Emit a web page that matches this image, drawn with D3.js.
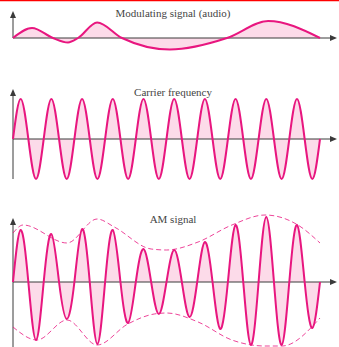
<!DOCTYPE html>
<html>
<head>
<meta charset="utf-8">
<script src="https://cdn.jsdelivr.net/npm/d3@7"></script>
<style>
  body { margin: 0; background: #fff; }
  text { font-family: "Liberation Serif", "DejaVu Serif", serif; fill: #444; }
</style>
</head>
<body>
<div id="chart"></div>
<script>
// time runs 0..100 across each panel, values are signal amplitudes
var modulating = [[0,0],[6.2,10],[13,0],[17.9,-4.5],[21.2,0],[27.4,15.5],[35.5,0],[51.1,-11.5],[69.7,0],[83.1,17],[100,0]];

// carrier extremes, one per half cycle (10 full cycles)
var carrierPeaks = [40,-40,40,-40,40,-40,40,-40,40,-40,40,-40,40,-40,40,-40,40,-40,40,-40];

// AM signal extremes, one per half cycle
var amPeaks = [52,-58,48,-37,53,-62,52,-41,33,-32,32,-35,40,-47,57,-63,65,-63,57,-46];

// dashed envelopes of the AM signal
var upperEnv = [[0,49],[3.3,57],[17.6,39],[27.4,63],[33,55],[45,33],[50,32],[60.3,40],[71.3,57],[82.1,67],[92.8,57],[100,39]];
var lowerEnv = [[0,45],[7.8,58],[17.6,38],[27.4,63],[37.4,42],[46,32],[50,31],[60.3,40],[71.3,58],[82,64],[87.6,64],[100,36]];

var titles = ["Modulating signal (audio)", "Carrier frequency", "AM signal"];

var width = 339, height = 347;
var pink = "#e8167f", fillPink = "#fcdbe9", axisCol = "#3a3a3a";

var svg = d3.select("#chart").append("svg")
  .attr("width", width).attr("height", height);

svg.append("line")
  .attr("x1", 0).attr("x2", width).attr("y1", 0.5).attr("y2", 0.5)
  .attr("stroke", "#ff0000").attr("stroke-width", 1.5);

var x = d3.scaleLinear().domain([0, 100]).range([13, 320]);

function peaksToPoints(peaks) {
  var n = peaks.length, step = 100 / n, pts = [[0, 0]];
  peaks.forEach(function(p, i) {
    pts.push([step * (i + 0.5), p]);
    pts.push([step * (i + 1), 0]);
  });
  return pts;
}

function panel(base, yTop, yBottom, data, curve, title, titleY) {
  var y = d3.scaleLinear().domain([-100, 100]).range([base + 100, base - 100]);
  var g = svg.append("g");

  var area = d3.area().x(function(d){ return x(d[0]); })
    .y0(y(0)).y1(function(d){ return y(d[1]); }).curve(curve);
  var line = d3.line().x(function(d){ return x(d[0]); })
    .y(function(d){ return y(d[1]); }).curve(curve);

  g.append("path").attr("d", area(data)).attr("fill", fillPink);

  // axes
  g.append("line").attr("x1", x(0)).attr("x2", 332).attr("y1", y(0)).attr("y2", y(0))
    .attr("stroke", axisCol).attr("stroke-width", 1);
  g.append("path").attr("d", "M337," + y(0) + "l-7,-3l0,6z").attr("fill", axisCol);
  g.append("line").attr("x1", x(0)).attr("x2", x(0)).attr("y1", yBottom).attr("y2", yTop + 5)
    .attr("stroke", axisCol).attr("stroke-width", 1);
  g.append("path").attr("d", "M" + x(0) + "," + yTop + "l-3,7l6,0z").attr("fill", axisCol);

  g.append("path").attr("d", line(data)).attr("fill", "none")
    .attr("stroke", pink).attr("stroke-width", 2);

  g.append("text").attr("x", 173).attr("y", titleY).attr("text-anchor", "middle")
    .attr("font-size", 11).text(title);
  return {g: g, y: y};
}

panel(38, 11, 38, modulating, d3.curveMonotoneX, titles[0], 17);
panel(139, 89, 179, peaksToPoints(carrierPeaks), d3.curveNatural, titles[1], 96);
var am = panel(282, 218, 350, peaksToPoints(amPeaks), d3.curveNatural, titles[2], 223);

var envLine = d3.line().x(function(d){ return x(d[0]); }).curve(d3.curveMonotoneX);
am.g.append("path")
  .attr("d", envLine.y(function(d){ return am.y(d[1]); })(upperEnv))
  .attr("fill", "none").attr("stroke", pink).attr("stroke-width", 1)
  .attr("stroke-dasharray", "5,3").attr("opacity", 0.8);
am.g.append("path")
  .attr("d", envLine.y(function(d){ return am.y(-d[1]); })(lowerEnv))
  .attr("fill", "none").attr("stroke", pink).attr("stroke-width", 1)
  .attr("stroke-dasharray", "5,3").attr("opacity", 0.8);
</script>
</body>
</html>
